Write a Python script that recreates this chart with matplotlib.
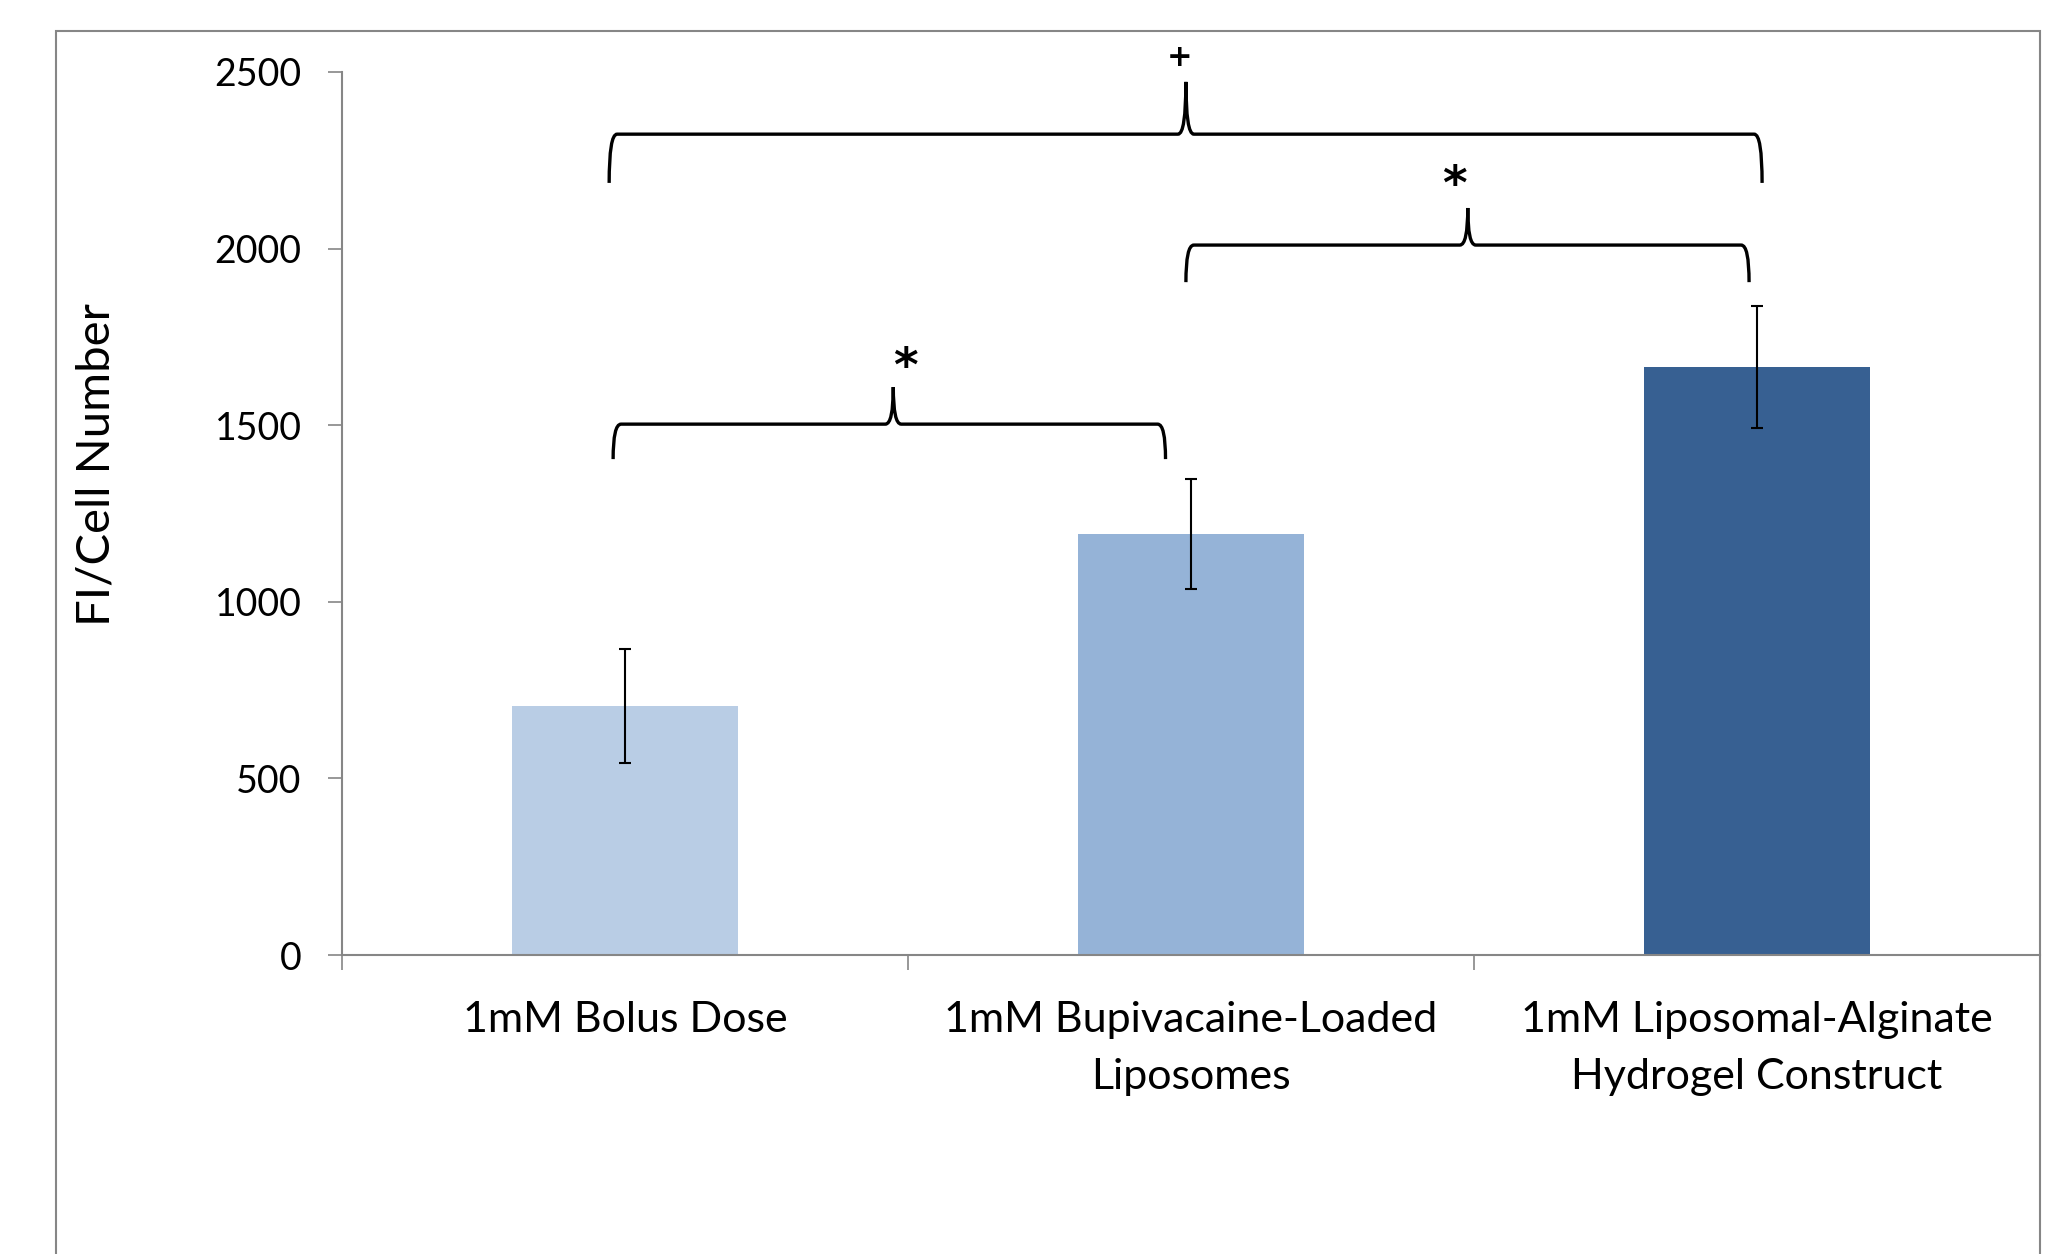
import matplotlib
matplotlib.use("Agg")
import matplotlib.pyplot as plt
from matplotlib.path import Path
from matplotlib.patches import PathPatch, Rectangle

categories = ["1mM Bolus Dose", "1mM Bupivacaine-Loaded\nLiposomes",
              "1mM Liposomal-Alginate\nHydrogel Construct"]
values = [705, 1192, 1665]
errors = [162, 156, 172]
colors = ["#B9CDE5", "#95B3D7", "#376092"]
yticks = [0, 500, 1000, 1500, 2000, 2500]
ylabel = "FI/Cell Number"

# significance brackets: (left x, right x, tip x, horizontal y, bottom y, tip y, symbol, sym x, sym y)
brackets = [
    (-0.021, 0.955, 0.474, 1503, 1404, 1608, "*", 0.495, 1660),
    (0.991, 1.986, 1.489, 2010, 1905, 2115, "*", 1.466, 2175),
    (-0.028, 2.009, 0.991, 2324, 2186, 2472, "+", 0.980, 2540),
]

plt.rcParams['font.family'] = ['Lato', 'DejaVu Sans']

W, H = 2046, 1254
fig = plt.figure(figsize=(W / 100, H / 100), dpi=100)
ax = fig.add_axes([342 / W, 1 - 955 / H, (2040 - 342) / W, (955 - 72) / H])

x = list(range(len(categories)))
ax.bar(x, values, width=0.4, color=colors, zorder=2)
ax.errorbar(x, values, yerr=errors, fmt='none', ecolor='black',
            elinewidth=1.5, capsize=4.3, capthick=1.5, zorder=3)

ax.set_xlim(-0.5, 2.5)
ax.set_ylim(0, 2500)
ax.set_yticks(yticks)
ax.set_yticklabels([str(v) for v in yticks], fontsize=27)
ax.tick_params(axis='y', direction='out', length=10, width=1.2, color='#868686', pad=19)

ax.set_xticks(x)
ax.set_xticklabels(categories, fontsize=31, linespacing=1.62)
ax.tick_params(axis='x', which='major', length=0, pad=33)
ax.set_xticks([-0.5, 0.5, 1.5, 2.5], minor=True)
ax.tick_params(axis='x', which='minor', direction='out', length=11, width=1.2, color='#868686')

for s in ['top', 'right']:
    ax.spines[s].set_visible(False)
for s in ['left', 'bottom']:
    ax.spines[s].set_color('#868686')
    ax.spines[s].set_linewidth(1.5)

fig.text(97 / W, 1 - 465 / H, ylabel, rotation=90, fontsize=34, ha='center', va='center')

# outer chart frame
fig.patches.append(Rectangle((56 / W, -0.1), (2040 - 56) / W, 1.1 - 31 / H,
                             transform=fig.transFigure, fill=False,
                             edgecolor='#868686', linewidth=1.5))

dx_c = 0.014  # corner curvature in data x
dx_t = 0.014
for xl, xr, xt, yh, yb, ytp, sym, sx, sy in brackets:
    verts = [
        (xl, yb), (xl, yh), (xl + dx_c, yh),
        (xt - dx_t, yh),
        (xt, yh), (xt, ytp),
        (xt, yh), (xt + dx_t, yh),
        (xr - dx_c, yh),
        (xr, yh), (xr, yb),
    ]
    codes = [Path.MOVETO, Path.CURVE3, Path.CURVE3,
             Path.LINETO,
             Path.CURVE3, Path.CURVE3,
             Path.CURVE3, Path.CURVE3,
             Path.LINETO,
             Path.CURVE3, Path.CURVE3]
    ax.add_patch(PathPatch(Path(verts, codes), fill=False, edgecolor='black',
                           linewidth=2.4, clip_on=False, zorder=4))
    if sym == '*':
        ax.text(sx, sy, sym, ha='center', va='center', fontsize=34,
                fontweight='bold', family='DejaVu Sans', clip_on=False)
    else:
        ax.text(sx, sy, sym, ha='center', va='center', fontsize=22,
                fontweight='bold', family='DejaVu Sans', clip_on=False)

fig.savefig("out.png", dpi=100)
